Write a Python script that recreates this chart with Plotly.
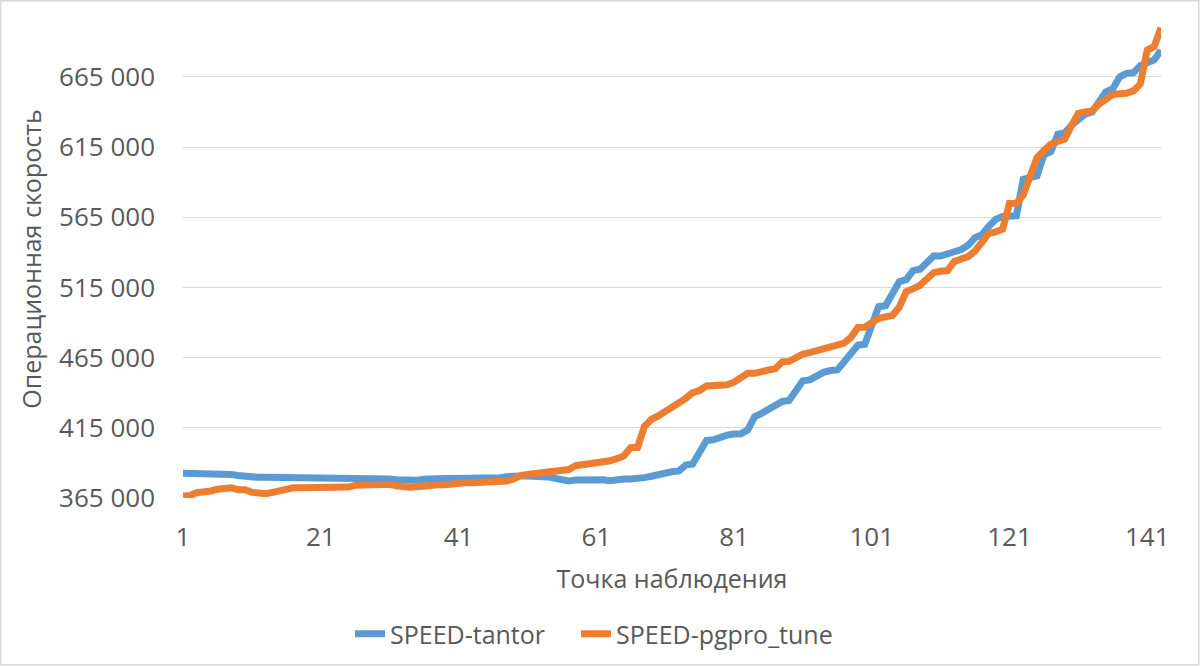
import plotly.graph_objects as go

points = list(range(1, 144))

speed_tantor = [
    382600, 382600, 382600, 382600, 382600, 382600, 382600, 381800, 381000, 380300,
    379900, 379700, 379700, 379700, 379700, 379700, 379700, 379700, 379700, 379700,
    379200, 378700, 378700, 378700, 378700, 378700, 378700, 378700, 378700, 378700,
    378500, 378000, 377500, 377100, 377600, 378300, 378800, 378800, 378900, 378900,
    378900, 378900, 379000, 379000, 379000, 379000, 379500, 380200, 380900, 380700,
    380700, 380700, 380700, 380000, 379000, 378000, 377200, 377800, 378000, 378300,
    378200, 378000, 377300, 378300, 378500, 378500, 378500, 379500, 380500, 381800,
    383000, 383700, 384300, 388500, 389200, 398000, 406000, 406500, 408800, 409800,
    410600, 410800, 413500, 422900, 425300, 428500, 432000, 433800, 434500, 441000,
    448500, 449100, 452500, 454500, 455800, 456200, 462000, 468000, 474000, 474500,
    488000, 501300, 502000, 510000, 519100, 520500, 527000, 528000, 532500, 537400,
    537400, 538500, 540400, 542000, 545000, 550500, 552500, 558500, 563500, 565600,
    565800, 566000, 592000, 593000, 594500, 609500, 611700, 624000, 625000, 630500,
    634500, 638500, 640000, 646500, 654400, 656500, 665000, 667500, 668000, 673000,
    675500, 677000, 684000,
]

speed_pgpro_tune = [
    366400, 366800, 368800, 369000, 370000, 371200, 371400, 372300, 370900, 370900,
    369000, 368100, 368000, 369000, 370300, 371200, 372300, 372300, 372300, 372300,
    372300, 372300, 372300, 372300, 372800, 374000, 374300, 374400, 375200, 375200,
    374800, 373700, 373000, 372600, 373000, 373800, 374300, 374400, 374500, 375300,
    375900, 375900, 375900, 375900, 375900, 376800, 377100, 377100, 378500, 380900,
    381800, 382300, 383100, 383500, 384200, 384500, 385300, 388000, 388600, 389300,
    389800, 390300, 391500, 393000, 395000, 400800, 401100, 416000, 421000, 423500,
    426500, 429800, 432000, 436000, 440000, 441600, 444800, 445000, 445200, 445600,
    447500, 451000, 453800, 453800, 455600, 456200, 457000, 462000, 462300, 465000,
    467500, 468500, 469700, 471500, 472500, 474000, 475300, 479500, 486500, 486700,
    489500, 493000, 494000, 495000, 501000, 512000, 514000, 516500, 521000, 525500,
    526500, 527000, 533500, 535500, 537000, 541000, 547500, 553500, 554500, 556500,
    574900, 575000, 580800, 595000, 607400, 612500, 617000, 619000, 620700, 630000,
    639000, 640000, 640800, 645500, 649000, 652500, 653000, 653300, 655000, 660000,
    684000, 686500, 700000,
]

series_names = ["SPEED-tantor", "SPEED-pgpro_tune"]
x_tick_vals = [1, 21, 41, 61, 81, 101, 121, 141]
y_tick_vals = [365000, 415000, 465000, 515000, 565000, 615000, 665000]
y_tick_text = ["365 000", "415 000", "465 000", "515 000", "565 000", "615 000", "665 000"]

TEXT = "#595959"
FONT = "Open Sans"

fig = go.Figure()
fig.add_trace(go.Scatter(x=points, y=speed_tantor, mode="lines", name=series_names[0],
                         line=dict(color="#5B9BD5", width=7), legend="legend"))
fig.add_trace(go.Scatter(x=points, y=speed_pgpro_tune, mode="lines", name=series_names[1],
                         line=dict(color="#ED7D31", width=7), legend="legend2"))

L, R, T, B = 183, 39, 20, 168
W, H = 1200, 666
pw, ph = W - L - R, H - T - B
leg_y = (T + ph - 634) / ph

leg_common = dict(orientation="h", y=leg_y, xanchor="left", yanchor="middle",
                  font=dict(size=25, color=TEXT), itemwidth=30, bgcolor="rgba(0,0,0,0)")

fig.update_layout(
    width=W, height=H,
    margin=dict(l=L, r=R, t=T, b=B, pad=0, autoexpand=False),
    paper_bgcolor="white", plot_bgcolor="white",
    font=dict(family=FONT, color=TEXT, size=24),
    showlegend=True,
    legend=dict(x=(350 - L) / pw, **leg_common),
    legend2=dict(x=(576 - L) / pw, **leg_common),
    xaxis=dict(range=[1, 143], tickvals=x_tick_vals, showgrid=False, zeroline=False,
               showline=False, ticks="", ticklabelstandoff=21,
               tickfont=dict(size=26, color=TEXT),
               title=dict(text="Точка наблюдения", font=dict(size=25, color=TEXT), standoff=17)),
    yaxis=dict(range=[365000, 705500], tickvals=y_tick_vals, ticktext=y_tick_text,
               showgrid=True, gridcolor="#D9D9D9", gridwidth=1.3, zeroline=False,
               showline=False, ticks="", ticklabelstandoff=27,
               tickfont=dict(size=26, color=TEXT),
               title=dict(text="Операционная скорость", font=dict(size=25, color=TEXT), standoff=10)),
    shapes=[dict(type="rect", xref="paper", yref="paper",
                 x0=-L / pw + 0.75 / pw, x1=1 + (R - 1.25) / pw,
                 y0=-B / ph + 1.25 / ph, y1=1 + (T - 0.75) / ph,
                 line=dict(color="#D9D9D9", width=1.5), layer="below")],
)

fig.write_html("out.html", config={"displayModeBar": False},
               post_script="document.body.style.margin='0';document.body.style.padding='0';")
